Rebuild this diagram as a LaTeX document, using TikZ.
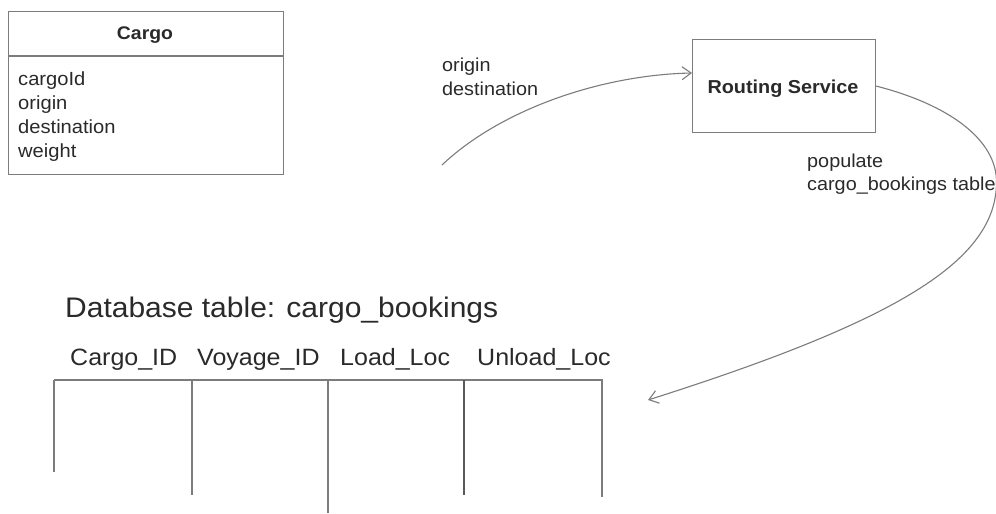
\documentclass[tikz,border=0pt]{standalone}
\usepackage{fontspec}
\setmainfont{Liberation Sans}[FakeStretch=1.06]
\usetikzlibrary{arrows.meta,calc}
\definecolor{txt}{HTML}{2A2A2A}
\definecolor{ln}{HTML}{7C7C7C}
\definecolor{lndark}{HTML}{5A5A5A}
\tikzset{
  box/.style={draw=ln, line width=1.1pt, inner sep=0pt, anchor=north west},
  lbl/.style={text=txt, inner sep=0pt, anchor=base west},
  fs/.style={font=\fontsize{#1}{#1}\selectfont},
  conn/.style={draw=ln, line width=1.1pt, -{Straight Barb[length=9pt,width=13pt]}},
  tline/.style={draw=ln, line width=1.3pt},
}
\begin{document}
\begin{tikzpicture}[x=1pt,y=-1pt]
\clip (0,0) rectangle (996,514);
\fill[white] (0,0) rectangle (996,514);
% Cargo class box
\node[box, minimum width=275pt, minimum height=163pt] (cargo) at (8,11) {};
\coordinate (div) at (0,56);
\draw[ln, line width=1.1pt] (cargo.west |- div) -- (cargo.east |- div);
\node[lbl, anchor=base, fs=18.3, font=\bfseries\fontsize{18.3}{18.3}\selectfont] (cargot) at (145,39) {Cargo};
\node[lbl, fs=19] (a1) at (18,85) {cargoId};
\node[lbl, fs=19] (a2) at (18,109) {origin};
\node[lbl, fs=19] (a3) at (18,133) {destination};
\node[lbl, fs=19] (a4) at (18,157) {weight};
% Routing service
\node[box, minimum width=183pt, minimum height=93pt] (rs) at (692,39) {};
\node[lbl, anchor=base, font=\bfseries\fontsize{18.7}{18.7}\selectfont] (rst) at (783,93) {Routing Service};
% arrow 1
\coordinate (a1start) at (442,165);
\node[lbl, fs=18.7] (l1) at (442,71) {origin};
\node[lbl, fs=18.7] (l2) at (442,95) {destination};
\draw[conn] (a1start) .. controls (500,110) and (600,75) .. ($(rs.north west)+(0,34)$);
% arrow 2
\coordinate (tblarrow) at (648,400);
\coordinate (rightmost) at (996.5,182);
\node[lbl, fs=18.7] (l3) at (807,167) {populate};
\node[lbl, fs=18.7] (l4) at (807,190) {cargo\_bookings table};
\draw[conn] (rs.east) .. controls (950,105) and (996.5,140) .. (rightmost)
  .. controls (996.5,260) and (900,320) .. (tblarrow);
% database table
\node[lbl, fs=28.3] (dbt) at (65,317) {Database table: cargo\_bookings};
\node[lbl, fs=23.6] (h1) at (70,365) {Cargo\_ID};
\node[lbl, fs=23.6] (h2) at (197,365) {Voyage\_ID};
\node[lbl, fs=23.6] (h3) at (340,365) {Load\_Loc};
\node[lbl, fs=23.6] (h4) at (477,365) {Unload\_Loc};
\draw[tline] (54,380) -- (603,380);
\draw[tline] (54,380) -- (54,472);
\draw[tline] (192,380) -- (192,495);
\draw[tline] (328,380) -- (328,513);
\draw[tline, draw=lndark] (464,380) -- (464,495);
\draw[tline] (602,380) -- (602,497);
\end{tikzpicture}
\end{document}
